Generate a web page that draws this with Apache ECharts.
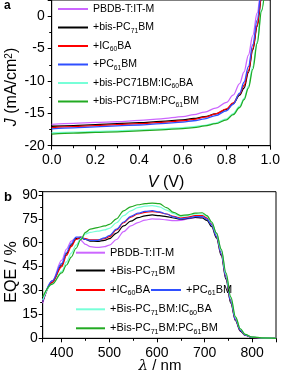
<!DOCTYPE html>
<html>
<head>
<meta charset="utf-8">
<script src="https://cdn.jsdelivr.net/npm/echarts@6/dist/echarts.min.js"></script>
<style>html,body{margin:0;padding:0;background:#fff}#c{width:283px;height:374px}</style>
</head>
<body>
<div id="c"></div>
<script>
// ---------- Panel a: J-V ----------
const voltage = [0, 0.1, 0.2, 0.3, 0.4, 0.5, 0.6, 0.65, 0.7, 0.75, 0.8, 0.83, 0.86, 0.88, 0.9, 0.92, 0.94, 0.96, 0.98];
const jvNames = ['PBDB-T:IT-M', '+bis-PC71BM', '+IC60BA', '+PC61BM', '+bis-PC71BM:IC60BA', '+bis-PC71BM:PC61BM'];
const jHost   = [-16.7, -16.55, -16.4, -16.3, -16.1, -15.85, -15.5, -15.2, -14.8, -14.2, -13.3, -12.2, -10.4, -8.6, -6.0, -3.0, 0.5, 4.5, 9];
const jBis    = [-17.0, -16.9, -16.75, -16.6, -16.45, -16.25, -16.0, -15.8, -15.5, -15.1, -14.4, -13.5, -12.2, -11.1, -8.7, -5.2, -1.6, 2.8, 8];
const jIC60   = [-17.2, -17.05, -16.9, -16.75, -16.6, -16.4, -16.15, -15.95, -15.6, -15.1, -14.3, -13.4, -12.0, -10.7, -8.4, -5.0, -1.4, 3.0, 8];
const jPC61   = [-17.4, -17.25, -17.1, -16.95, -16.8, -16.6, -16.35, -16.15, -15.85, -15.35, -14.6, -13.6, -11.9, -10.2, -7.8, -4.4, -0.6, 4.0, 9];
const jBisIC  = [-18.0, -17.9, -17.8, -17.7, -17.55, -17.4, -17.2, -17.05, -16.85, -16.5, -15.85, -15.05, -13.9, -12.7, -10.8, -7.8, -3.9, 1.0, 6.5];
const jBisPC  = [-18.2, -18.05, -17.95, -17.85, -17.7, -17.55, -17.35, -17.2, -16.95, -16.6, -16.0, -15.2, -14.1, -12.9, -11.1, -8.2, -4.2, 0.8, 6];
const jvValues = [jHost, jBis, jIC60, jPC61, jBisIC, jBisPC];
const vTicks = [0, 0.2, 0.4, 0.6, 0.8, 1.0];
const jTicks = [-20, -15, -10, -5, 0];

// ---------- Panel b: EQE ----------
const wavelength = [360,380,400,410,420,430,440,450,460,475,490,500,515,530,545,560,575,590,605,620,635,650,665,680,695,705,715,725,735,745,755,765,775,785,800,820,850];
const eqeNames = ['PBDB-T:IT-M', '+Bis-PC71BM', '+IC60BA', '+PC61BM', '+Bis-PC71BM:IC60BA', '+Bis-PC71BM:PC61BM'];
const eHost  = [22,36,49,56,61,63,61.5,59,57.5,57,57.5,58.5,62,67,70.5,72.6,74.2,74.9,74.8,74.3,73.8,74,75,75.7,75.8,75,72,66,55,40,24,12,5,2,0.6,0.2,0];
const eBis   = [23,35,46,53,58.5,62.5,63,62,61,60.8,61.5,62.5,66,70.5,73.5,75.7,76.8,77.4,77,76.4,75.5,74.8,75.2,75.8,75.5,74,70,63,52,37,22,11,4.5,2,0.6,0.2,0];
const eIC60  = [23,35,45,52,57.5,62,63.5,62.5,61.8,61.8,62.5,63.8,68,72.5,76,78,79,79.5,79,78,76.5,75.5,76,77,77,75.5,71.5,64,53,38,23,11.5,5,2,0.6,0.2,0];
const ePC61  = [23,36,47,54,59.5,63.5,63.5,62,61.5,61.5,63,64.5,68.5,73,76.5,78.5,79.6,80.1,79.3,78,76.2,75,75.5,76.3,76.3,74.8,71,64,53,38,23,11.5,5,2,0.6,0.2,0];
const eBisIC = [24,34,42,48,53.5,58.5,62.5,65.5,66.5,67.2,68,69,72.5,77,80,82,83,83.3,82.5,80.5,78.3,76.5,77,78,78,76.5,72.5,65.5,55,40,25,13,6,2.5,0.8,0.3,0];
const eBisPC = [26,34,41,46,51,56.5,62,66.5,68.5,69.5,70.5,71.5,75,80,82.5,83.8,84.5,84.8,84.5,82,79,77,77.5,78.5,78.8,77,73,66,56,41,26,13.5,6,2.5,0.8,0.3,0];
const eqeValues = [eHost, eBis, eIC60, ePC61, eBisIC, eBisPC];
const lambdaTicks = [400, 500, 600, 700, 800];
const eqeTicks = [0, 15, 30, 45, 60, 75, 90];

const colors = ['#cc66ff', '#000000', '#ff0000', '#2f4fff', '#77ffd8', '#22aa22'];

const richLabels = {
  'PBDB-T:IT-M': 'PBDB-T:IT-M',
  '+bis-PC71BM': '+bis-PC{s|71}BM',
  '+IC60BA': '+IC{s|60}BA',
  '+PC61BM': '+PC{s|61}BM',
  '+bis-PC71BM:IC60BA': '+bis-PC71BM:IC{s|60}BA',
  '+bis-PC71BM:PC61BM': '+bis-PC71BM:PC{s|61}BM',
  '+Bis-PC71BM': '+Bis-PC{s|71}BM',
  '+Bis-PC71BM:IC60BA': '+Bis-PC{s|71}BM:IC{s|60}BA',
  '+Bis-PC71BM:PC61BM': '+Bis-PC{s|71}BM:PC{s|61}BM'
};

const FONT = 'Liberation Sans, Arial, sans-serif';

function legendRow(name, left, centerY, fs, w) {
  return {
    data: [name], left: left, top: centerY - 7, padding: 0,
    icon: 'rect', itemWidth: w, itemHeight: 2, selectedMode: false,
    formatter: n => richLabels[n],
    textStyle: {
      fontSize: fs, fontFamily: FONT, color: '#000', lineHeight: 14,
      rich: { s: { fontSize: fs * 0.65, fontFamily: FONT, color: '#000', lineHeight: 8, verticalAlign: 'bottom' } }
    }
  };
}

const legends = [];
const aRows = [9, 27.5, 46, 64.5, 83, 101.5];
jvNames.forEach((n, i) => legends.push(legendRow(n, 58, aRows[i], 10.5, 30)));
legends.push(legendRow(eqeNames[0], 76, 252.7, 11, 29));
legends.push(legendRow(eqeNames[1], 76, 270.5, 11, 29));
legends.push(legendRow(eqeNames[2], 76, 290, 11, 29));
legends.push(legendRow(eqeNames[3], 151, 290, 11, 30));
legends.push(legendRow(eqeNames[4], 76, 309.3, 11, 29));
legends.push(legendRow(eqeNames[5], 76, 328.3, 11, 29));

function axisCommon(extra) {
  return Object.assign({
    type: 'value',
    axisLine: { show: true, onZero: false, lineStyle: { color: '#000', width: 1 } },
    axisTick: { show: true, inside: false, length: 4, lineStyle: { color: '#000' } },
    minorTick: { show: true, splitNumber: 2, length: 2.5, lineStyle: { color: '#000' } },
    splitLine: { show: false },
    minorSplitLine: { show: false }
  }, extra);
}

const series = [];
jvNames.forEach((n, i) => series.push({
  name: n, type: 'line', xAxisIndex: 0, yAxisIndex: 0,
  data: voltage.map((v, k) => [v, jvValues[i][k]]),
  smooth: 0.35, smoothMonotone: 'x', showSymbol: false, symbol: 'none', color: colors[i],
  lineStyle: { width: 1.3, color: colors[i] }, clip: true, silent: true
}));
eqeNames.forEach((n, i) => series.push({
  name: n, type: 'line', xAxisIndex: 1, yAxisIndex: 1,
  data: wavelength.map((w, k) => [w, eqeValues[i][k]]),
  smooth: 0.35, smoothMonotone: 'x', showSymbol: false, symbol: 'none', color: colors[i],
  lineStyle: { width: 1.2, color: colors[i] }, clip: true, silent: true
}));

const option = {
  animation: false,
  backgroundColor: '#fff',
  textStyle: { fontFamily: FONT },
  grid: [
    { left: 51.7, right: 11, top: 0, bottom: 228.3, show: true, borderColor: '#000', borderWidth: 1, backgroundColor: 'transparent' },
    { left: 42.7, right: 7, top: 191.7, bottom: 35.7, show: true, borderColor: '#000', borderWidth: 1, backgroundColor: 'transparent' }
  ],
  xAxis: [
    axisCommon({ gridIndex: 0, min: 0, max: 1, interval: 0.2,
      axisLabel: { fontSize: 14, color: '#000', margin: 7, fontFamily: FONT,
        formatter: v => vTicks.some(t => Math.abs(t - v) < 1e-6) ? v.toFixed(1) : '' } }),
    axisCommon({ gridIndex: 1, min: 360, max: 850, splitNumber: 5,
      axisLabel: { fontSize: 14, color: '#000', margin: 8, fontFamily: FONT,
        formatter: v => lambdaTicks.indexOf(v) >= 0 ? String(v) : '' } })
  ],
  yAxis: [
    axisCommon({ gridIndex: 0, min: -20, max: 2.5, interval: 5,
      axisLabel: { fontSize: 14, color: '#000', margin: 7, fontFamily: FONT,
        formatter: v => jTicks.indexOf(v) >= 0 ? String(v) : '' } }),
    axisCommon({ gridIndex: 1, min: 0, max: 92, interval: 15,
      axisLabel: { fontSize: 14, color: '#000', margin: 5, fontFamily: FONT,
        formatter: v => eqeTicks.indexOf(v) >= 0 ? String(v) : '' } })
  ],
  legend: legends,
  graphic: [
    { type: 'text', x: 4, y: 0, style: { text: 'a', fontSize: 12, fontWeight: 'bold', fontFamily: FONT, fill: '#000' } },
    { type: 'text', x: 4, y: 191, style: { text: 'b', fontSize: 13, fontWeight: 'bold', fontFamily: FONT, fill: '#000' } },
    { type: 'text', x: 12, y: 87, rotation: Math.PI / 2,
      style: { text: '{i|J} (mA/cm{sup|2})', align: 'center', verticalAlign: 'middle', fontSize: 16, fontFamily: FONT, fill: '#000',
        rich: { i: { fontStyle: 'italic', fontSize: 16, fontFamily: FONT }, sup: { fontSize: 10, fontFamily: FONT, lineHeight: 10, verticalAlign: 'top' } } } },
    { type: 'text', x: 166, y: 183,
      style: { text: '{i|V} (V)', align: 'center', verticalAlign: 'middle', fontSize: 16, fontFamily: FONT, fill: '#000',
        rich: { i: { fontStyle: 'italic', fontSize: 16, fontFamily: FONT } } } },
    { type: 'text', x: 12, y: 272, rotation: Math.PI / 2,
      style: { text: 'EQE / %', align: 'center', verticalAlign: 'middle', fontSize: 16, fontFamily: FONT, fill: '#000' } },
    { type: 'text', x: 160, y: 366,
      style: { text: '{i|λ} / nm', align: 'center', verticalAlign: 'middle', fontSize: 15, fontFamily: FONT, fill: '#000',
        rich: { i: { fontStyle: 'italic', fontSize: 15, fontFamily: 'DejaVu Serif, serif' } } } }
  ],
  series: series
};

const chart = echarts.init(document.getElementById('c'), null, { renderer: 'canvas' });
chart.setOption(option);
</script>
</body>
</html>
